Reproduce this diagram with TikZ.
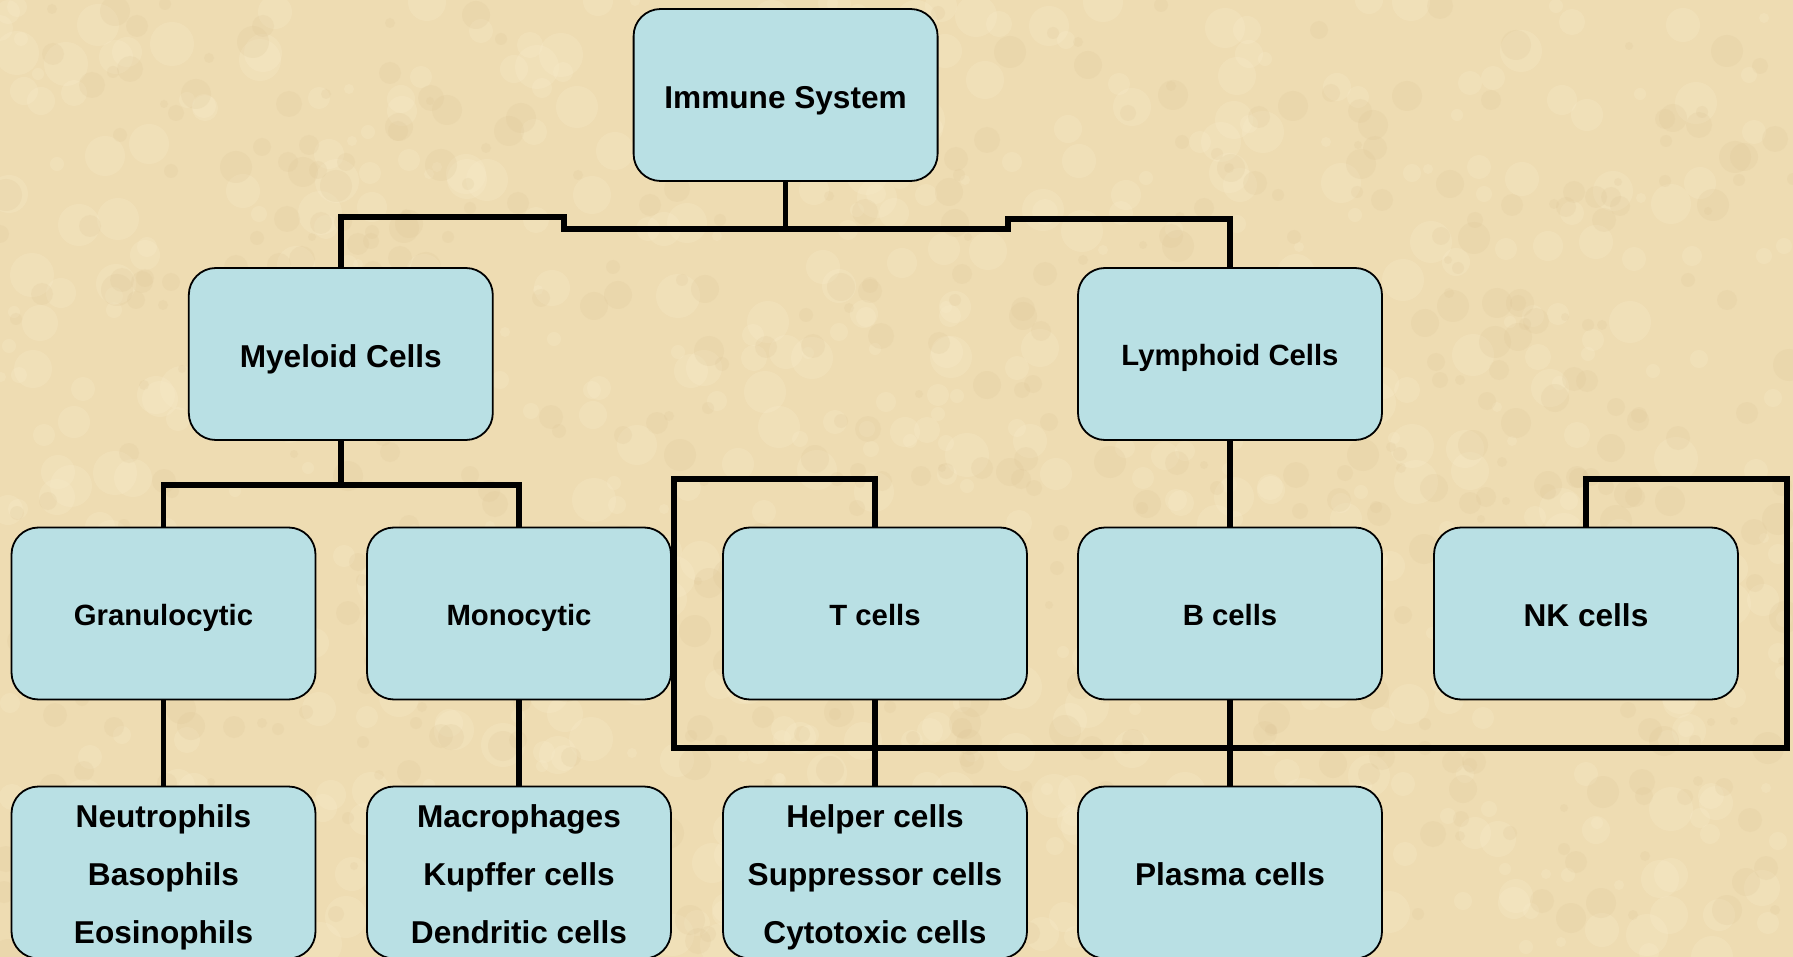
\documentclass[tikz,border=0pt]{standalone}
\usepackage{fontspec}
\setmainfont{Liberation Sans}
\pgfdeclarelayer{bg}
\pgfsetlayers{bg,main}
\definecolor{paper}{HTML}{EEDCB2}
\definecolor{paperlight}{HTML}{F8EBCB}
\definecolor{paperdark}{HTML}{D9C090}
\definecolor{boxfill}{HTML}{B9E0E4}
\newcommand\tripline[3]{\raisebox{44.7pt}[0pt][0pt]{\begin{tabular}[t]{@{}c@{}}#1\\#2\\#3\end{tabular}}}
\begin{document}
\begin{tikzpicture}[x=1pt,y=-1pt,
  box/.style={draw=black,line width=1.8pt,fill=boxfill,rounded corners=27pt,
    minimum width=304pt,minimum height=172pt,inner sep=0pt,align=center,text=black,
    font=\bfseries\fontsize{31.6}{58}\selectfont},
  bigone/.style={box,text height=26.5pt,text depth=0pt},
  smallbox/.style={box,font=\bfseries\fontsize{29.3}{58}\selectfont,text height=24pt,text depth=0pt},
  conn/.style={draw=black,line width=5.4pt}]
\useasboundingbox (0,0) rectangle (1793,957);

% nodes
\node[bigone]    (imm) at (785.6,95)    {Immune System};
\node[bigone]    (mye) at (340.8,354)   {Myeloid Cells};
\node[smallbox]  (lym) at (1230,354)    {Lymphoid Cells};
\node[smallbox]  (gra) at (163.5,613.5) {Granulocytic};
\node[smallbox]  (mon) at (519,613.5)   {Monocytic};
\node[smallbox]  (tc)  at (875,613.5)   {T cells};
\node[smallbox]  (bc)  at (1230,613.5)  {B cells};
\node[bigone]    (nk)  at (1586,613.5)  {NK cells};
\node[box]       (neu) at (163.5,872.5) {\tripline{Neutrophils}{Basophils}{Eosinophils}};
\node[box]       (mac) at (519,872.5)   {\tripline{Macrophages}{Kupffer cells}{Dendritic cells}};
\node[box]       (hel) at (875,872.5)   {\tripline{Helper cells}{Suppressor cells}{Cytotoxic cells}};
\node[bigone]    (pla) at (1230,872.5)  {Plasma cells};

\begin{pgfonlayer}{bg}
  \fill[paper] (0,0) rectangle (1793,957);
  \pgfmathsetseed{11}
  \foreach \i in {1,...,700}{
    \pgfmathsetmacro\px{random(0,1793)}
    \pgfmathsetmacro\py{random(0,957)}
    \pgfmathsetmacro\rr{random(5,22)}
    \fill[paperlight,opacity=0.28] (\px,\py) circle (\rr pt);
  }
  \foreach \i in {1,...,600}{
    \pgfmathsetmacro\px{random(0,1793)}
    \pgfmathsetmacro\py{random(0,957)}
    \pgfmathsetmacro\rr{random(4,16)}
    \fill[paperdark,opacity=0.16] (\px,\py) circle (\rr pt);
  }
  % connectors
  \draw[conn] (imm.south) -- (imm.south |- 0,229);
  \draw[conn] (mye.north) -- (mye.north |- 0,217) -- (564,217) -- (564,229)
              -- (1008,229) -- (1008,219) -- (lym.north |- 0,219) -- (lym.north);
  \draw[conn] (mye.south) -- (mye.south |- 0,485);
  \draw[conn] (gra.north) -- (gra.north |- 0,485) -- (mon.north |- 0,485) -- (mon.north);
  \draw[conn] (lym.south) -- (bc.north);
  \draw[conn] (gra.south) -- (neu.north);
  \draw[conn] (mon.south) -- (mac.north);
  \draw[conn] (tc.south) -- (hel.north);
  \draw[conn] (bc.south) -- (pla.north);
  \draw[conn] (tc.north) -- (tc.north |- 0,479) -- (674,479) -- (674,748)
              -- (1787,748) -- (1787,479) -- (nk.north |- 0,479) -- (nk.north);
\end{pgfonlayer}
\end{tikzpicture}
\end{document}
